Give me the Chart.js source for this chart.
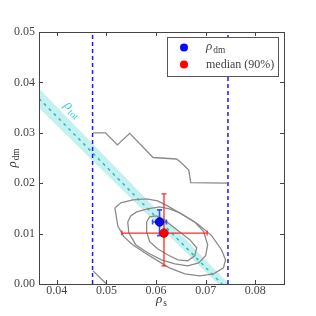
<!DOCTYPE html>
<html><head><meta charset="utf-8">
<script src="https://cdn.jsdelivr.net/npm/chart.js@4/dist/chart.umd.min.js"></script>
<style>html,body{margin:0;padding:0;background:#fff;}#wrap{width:316px;height:316px;}</style>
</head><body><div id="wrap"><canvas id="c" width="316" height="316"></canvas></div>
<script>
// ---- data ----
const xTicks = [0.04, 0.05, 0.06, 0.07, 0.08];
const yTicks = [0.00, 0.01, 0.02, 0.03, 0.04, 0.05];
const xRange = [0.0364, 0.0858];
const yRange = [0.0, 0.05];
const priorLow = 0.0472;
const priorHigh = 0.0745;
const rhoTotCenter = [[0.0364, 0.0368], [0.0733, 0.0]];
const rhoTotBand = [[0.0364, 0.0388], [0.0747, 0.0], [0.0725, 0.0], [0.0364, 0.0349]];
const rhoTotLabelPos = [0.0432, 0.0346];
const contourTop = [[0.0473,0.0300],[0.0498,0.0300],[0.0522,0.0276],[0.0547,0.0299],[0.0594,0.0251],[0.0641,0.0248],[0.0648,0.0243],[0.0666,0.0226],[0.0670,0.0201],[0.0744,0.0200]];
const contourCorner = [[0.0473,0.0026],[0.0500,0.0]];
const contourOuter = [[0.0517,0.0151],[0.0529,0.0161],[0.0553,0.0167],[0.0581,0.0169],[0.0603,0.0165],[0.0623,0.0155],[0.0648,0.0141],[0.0684,0.0119],[0.0712,0.0096],[0.0732,0.0068],[0.0740,0.0048],[0.0736,0.0032],[0.0716,0.0020],[0.0688,0.0016],[0.0658,0.0020],[0.0627,0.0032],[0.0607,0.0044],[0.0577,0.0062],[0.0553,0.0078],[0.0535,0.0094],[0.0523,0.0115]];
const contourMiddle = [[0.0543,0.0123],[0.0549,0.0135],[0.0561,0.0143],[0.0583,0.0149],[0.0607,0.0153],[0.0627,0.0149],[0.0648,0.0141],[0.0678,0.0123],[0.0696,0.0104],[0.0704,0.0078],[0.0700,0.0056],[0.0686,0.0042],[0.0664,0.0036],[0.0638,0.0040],[0.0611,0.0048],[0.0583,0.0062],[0.0559,0.0078],[0.0545,0.0102]];
const contourInner = [[0.0581,0.0123],[0.0587,0.0133],[0.0601,0.0135],[0.0617,0.0127],[0.0644,0.0106],[0.0668,0.0088],[0.0682,0.0072],[0.0678,0.0056],[0.0664,0.0046],[0.0644,0.0048],[0.0623,0.0058],[0.0603,0.0070],[0.0587,0.0084],[0.0581,0.0104]];
const rhoDmPoint = [0.0607, 0.0123];
const rhoDmXErr = [0.0593, 0.0621];
const rhoDmYErr = [0.0096, 0.0147];
const medianPoint = [0.0616, 0.0101];
const medianXErr = [0.0531, 0.0703];
const medianYErr = [0.0036, 0.0179];
const legendLabels = ['dm', 'median (90%)'];

// ---- helpers ----
const toPts = a => a.map(p => ({x: p[0], y: p[1]}));
const closed = a => toPts(a.concat([a[0]]));
const SERIF = '"Liberation Serif", "DejaVu Serif", serif';
const GRAY = '#8a8a8a';

function line(data, color, width, dash) {
  return {data, showLine: true, borderColor: color, borderWidth: width, borderDash: dash || [],
          pointRadius: 0, pointHoverRadius: 0, fill: false, tension: 0};
}

const datasets = [
  line(toPts(contourTop), GRAY, 1.3),
  line(toPts(contourCorner), GRAY, 1.3),
  line(closed(contourInner), GRAY, 1.3),
  line(closed(contourMiddle), GRAY, 1.3),
  line(closed(contourOuter), GRAY, 1.3),
  line(toPts([[priorLow, yRange[0]], [priorLow, yRange[1]]]), '#1a1aff', 1.5, [4, 3]),
  line(toPts([[priorHigh, yRange[0]], [priorHigh, yRange[1]]]), '#1a1aff', 1.5, [4, 3]),
  line(toPts(rhoTotCenter), '#1fbfbf', 1.5, [3, 4]),
  Object.assign(line(closed(rhoTotBand), 'rgba(0,0,0,0)', 0), {fill: 'shape', backgroundColor: 'rgba(40,200,200,0.27)'})
];

function subText(ctx, main, sub, x, y, size, align) {
  ctx.font = 'italic ' + size + 'px ' + SERIF;
  const w1 = ctx.measureText(main).width;
  ctx.font = (size * 0.72) + 'px ' + SERIF;
  const w2 = ctx.measureText(sub).width;
  let x0 = x;
  if (align === 'center') x0 = x - (w1 + w2 + 1) / 2;
  ctx.textBaseline = 'middle';
  ctx.textAlign = 'left';
  ctx.font = 'italic ' + size + 'px ' + SERIF;
  ctx.fillText(main, x0, y);
  ctx.font = (size * 0.72) + 'px ' + SERIF;
  ctx.fillText(sub, x0 + w1 + 1, y + size * 0.25);
}

const decor = {
  id: 'decor',
  afterDatasetsDraw(chart) {
    const ctx = chart.ctx, ca = chart.chartArea;
    const xs = chart.scales.x, ys = chart.scales.y;
    const px = v => xs.getPixelForValue(v), py = v => ys.getPixelForValue(v);
    ctx.save();
    ctx.beginPath(); ctx.rect(ca.left, ca.top, ca.right - ca.left, ca.bottom - ca.top); ctx.clip();
    function errbar(pt, xe, ye, color, w) {
      ctx.strokeStyle = color; ctx.lineWidth = w; ctx.setLineDash([]);
      const cx = px(pt[0]), cy = py(pt[1]);
      const x1 = px(xe[0]), x2 = px(xe[1]), y1 = py(ye[0]), y2 = py(ye[1]);
      const c = 2.5;
      ctx.beginPath();
      ctx.moveTo(x1, cy); ctx.lineTo(x2, cy);
      ctx.moveTo(cx, y1); ctx.lineTo(cx, y2);
      ctx.moveTo(x1, cy - c); ctx.lineTo(x1, cy + c);
      ctx.moveTo(x2, cy - c); ctx.lineTo(x2, cy + c);
      ctx.moveTo(cx - c, y1); ctx.lineTo(cx + c, y1);
      ctx.moveTo(cx - c, y2); ctx.lineTo(cx + c, y2);
      ctx.stroke();
    }
    errbar(medianPoint, medianXErr, medianYErr, '#ff2a2a', 1.3);
    errbar(rhoDmPoint, rhoDmXErr, rhoDmYErr, '#3050ff', 1.6);
    function dot(pt, fill, edge) {
      ctx.beginPath(); ctx.arc(px(pt[0]), py(pt[1]), 4.2, 0, Math.PI * 2);
      ctx.fillStyle = fill; ctx.fill();
      ctx.lineWidth = 1; ctx.strokeStyle = edge; ctx.stroke();
    }
    dot(rhoDmPoint, '#0a0aff', '#000070');
    dot(medianPoint, '#ff0000', '#cc0000');
    ctx.restore();

    // frame + inward ticks
    ctx.save();
    ctx.strokeStyle = '#444'; ctx.lineWidth = 1; ctx.setLineDash([]);
    ctx.strokeRect(Math.round(ca.left) + 0.5, Math.round(ca.top) + 0.5, Math.round(ca.right - ca.left), Math.round(ca.bottom - ca.top));
    ctx.beginPath();
    const tl = 4;
    xTicks.forEach(v => { const x = Math.round(px(v)) + 0.5;
      ctx.moveTo(x, ca.bottom); ctx.lineTo(x, ca.bottom - tl);
      ctx.moveTo(x, ca.top); ctx.lineTo(x, ca.top + tl); });
    yTicks.forEach(v => { const y = Math.round(py(v)) + 0.5;
      ctx.moveTo(ca.left, y); ctx.lineTo(ca.left + tl, y);
      ctx.moveTo(ca.right, y); ctx.lineTo(ca.right - tl, y); });
    ctx.stroke();

    // rho_tot label
    const a = Math.atan2(py(rhoTotCenter[1][1]) - py(rhoTotCenter[0][1]), px(rhoTotCenter[1][0]) - px(rhoTotCenter[0][0]));
    ctx.save();
    ctx.translate(px(rhoTotLabelPos[0]), py(rhoTotLabelPos[1]));
    ctx.rotate(a);
    ctx.fillStyle = '#3cd0d0';
    subText(ctx, 'ρ', 'tot', 0, 0, 14, 'center');
    ctx.restore();

    // axis titles
    ctx.fillStyle = '#333';
    subText(ctx, 'ρ', 's', (ca.left + ca.right) / 2, 300, 13, 'center');
    ctx.save();
    ctx.translate(13, (ca.top + ca.bottom) / 2);
    ctx.rotate(-Math.PI / 2);
    subText(ctx, 'ρ', 'dm', 0, 0, 13, 'center');
    ctx.restore();

    // legend
    const lx = ca.right - 117, ly = ca.top + 5, lw = 111, lh = 39;
    ctx.fillStyle = '#fff';
    ctx.fillRect(lx, ly, lw, lh);
    ctx.strokeStyle = '#555'; ctx.lineWidth = 1;
    ctx.strokeRect(Math.round(lx) + 0.5, Math.round(ly) + 0.5, lw, lh);
    ctx.beginPath(); ctx.arc(lx + 17, ly + 10.5, 4, 0, Math.PI * 2); ctx.fillStyle = '#0a0aff'; ctx.fill();
    ctx.beginPath(); ctx.arc(lx + 17, ly + 27.5, 4, 0, Math.PI * 2); ctx.fillStyle = '#ff0000'; ctx.fill();
    ctx.fillStyle = '#444';
    subText(ctx, 'ρ', legendLabels[0], lx + 39, ly + 10, 13, 'left');
    ctx.font = '12px ' + SERIF; ctx.textBaseline = 'middle'; ctx.textAlign = 'left';
    ctx.fillText(legendLabels[1], lx + 39, ly + 28);
    ctx.restore();
  }
};

new Chart(document.getElementById('c'), {
  type: 'scatter',
  data: {datasets},
  options: {
    responsive: false, animation: false, devicePixelRatio: 1,
    layout: {padding: {top: 32, right: 32, left: 0, bottom: 0}},
    plugins: {legend: {display: false}, tooltip: {enabled: false}},
    events: [],
    scales: {
      x: {type: 'linear', min: xRange[0], max: xRange[1],
          afterBuildTicks: s => { s.ticks = xTicks.map(v => ({value: v})); },
          afterFit: s => { s.height = 32; },
          grid: {display: false, drawTicks: false, tickLength: 0}, border: {display: false},
          ticks: {callback: v => v.toFixed(2), color: '#444', padding: 0, maxRotation: 0, autoSkip: false,
                  font: {family: SERIF, size: 12}}},
      y: {type: 'linear', min: yRange[0], max: yRange[1],
          afterBuildTicks: s => { s.ticks = yTicks.map(v => ({value: v})); },
          afterFit: s => { s.width = 39; },
          grid: {display: false, drawTicks: false, tickLength: 0}, border: {display: false},
          ticks: {callback: v => v.toFixed(2), color: '#444', padding: 4, autoSkip: false,
                  font: {family: SERIF, size: 12}}}
    }
  },
  plugins: [decor]
});
</script></body></html>
